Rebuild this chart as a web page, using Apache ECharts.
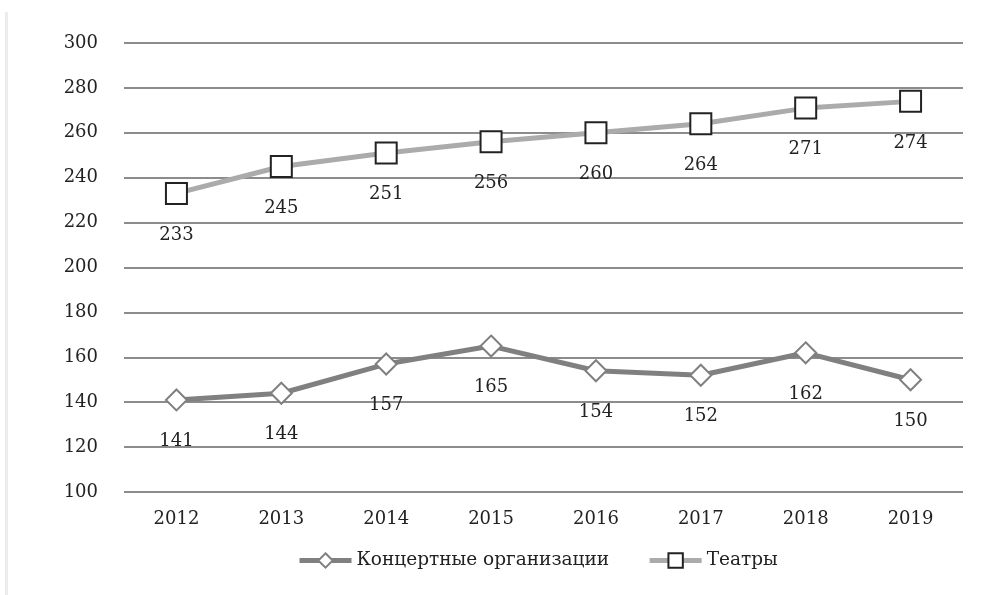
<!DOCTYPE html>
<html>
<head>
<meta charset="utf-8">
<style>
    html, body { margin: 0; padding: 0; background: #fff; }
    #edge { position: absolute; left: 5px; top: 12px; width: 3px; height: 583px; background: #ececec; }
    #chart { width: 1006px; height: 595px; }
</style>
<script src="https://cdn.jsdelivr.net/npm/echarts@6/dist/echarts.min.js"></script>
</head>
<body>
<div id="edge"></div>
<div id="chart"></div>
<script>
    const years = ['2012', '2013', '2014', '2015', '2016', '2017', '2018', '2019'];
    const concerts = [141, 144, 157, 165, 154, 152, 162, 150];
    const theatres = [233, 245, 251, 256, 260, 264, 271, 274];

    const font = 'DejaVu Serif';
    const myChart = echarts.init(document.getElementById('chart'));
    let options = {
        animation: false,
        textStyle: { fontFamily: font },
        legend: {
            bottom: 20,
            left: 292,
            itemWidth: 52,
            itemHeight: 18,
            itemGap: 38,
            lineStyle: { width: 5 },
            textStyle: { fontFamily: font, fontSize: 18.5, color: '#222' },
            data: ['Концертные организации', 'Театры']
        },
        grid: {
            left: 124,
            right: 43,
            top: 43,
            bottom: 103
        },
        xAxis: {
            type: 'category',
            data: years,
            axisLine: { show: false },
            axisTick: { show: false },
            axisLabel: { fontFamily: font, fontSize: 18, color: '#222', margin: 18 }
        },
        yAxis: {
            type: 'value',
            min: 100,
            max: 300,
            interval: 20,
            axisLine: { show: false },
            axisTick: { show: false },
            axisLabel: { fontFamily: font, fontSize: 18, color: '#222', margin: 26 },
            splitLine: { lineStyle: { color: '#8c8c8c', width: 2 } }
        },
        series: [
            {
                name: 'Концертные организации',
                type: 'line',
                data: concerts,
                symbol: 'diamond',
                symbolSize: 21,
                lineStyle: { color: '#808080', width: 5 },
                itemStyle: { color: '#fff', borderColor: '#808080', borderWidth: 2 },
                label: {
                    show: true,
                    position: 'bottom',
                    distance: 21,
                    fontFamily: font,
                    fontSize: 18,
                    color: '#222'
                }
            },
            {
                name: 'Театры',
                type: 'line',
                data: theatres,
                symbol: 'rect',
                symbolSize: 21,
                lineStyle: { color: '#ababab', width: 5 },
                itemStyle: { color: '#fff', borderColor: '#222', borderWidth: 2 },
                label: {
                    show: true,
                    position: 'bottom',
                    distance: 21,
                    fontFamily: font,
                    fontSize: 18,
                    color: '#222'
                }
            }
        ]
    };
    myChart.setOption(options);
</script>
</body>
</html>
